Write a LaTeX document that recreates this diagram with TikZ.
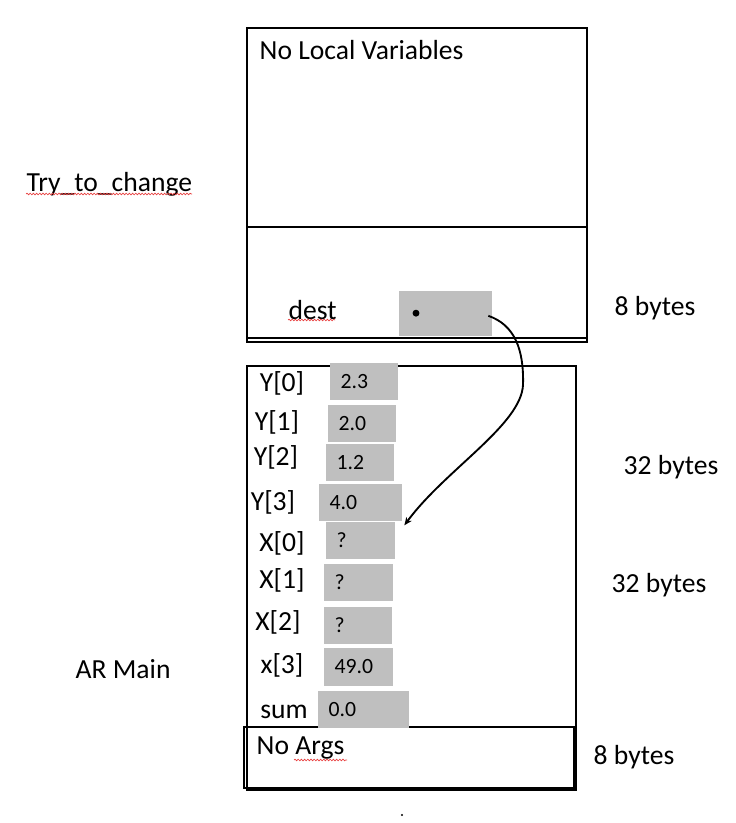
\documentclass[tikz,border=0pt]{standalone}
\usepackage{fontspec}
\setmainfont{Carlito}
\usetikzlibrary{arrows.meta,positioning,decorations.pathmorphing}
\definecolor{cellgrey}{RGB}{191,191,191}
\definecolor{spellred}{RGB}{232,64,64}

\begin{document}
\begin{tikzpicture}[x=0.75pt,y=-0.75pt,line width=1pt,
  every node/.style={inner sep=0pt,font=\fontsize{20.7}{24}\selectfont},
  txt/.style={anchor=west},
  cell/.style={fill=cellgrey,anchor=north west,inner xsep=8.25pt,inner ysep=0pt,minimum height=27.75pt,align=left,font=\fontsize{16.3}{19}\selectfont},
  squiggle/.style={spellred,line width=0.5pt,decorate,decoration={snake,amplitude=0.6pt,segment length=2.4pt}}]
  \useasboundingbox (0,0) rectangle (735,823);
  % frames
  \draw (247,28) rectangle (587,342);
  \draw (247,227) -- (587,227);
  \draw (247,338) -- (587,338);
  \draw (247,366) rectangle (576,790);
  \draw (244,727) rectangle (574,788);
  % callee frame
  \node[txt] (nolocal) at (259,50) {No Local Variables};
  \node[txt] (destlbl) at (288,310) {dest};
  \node[cell,minimum width=69.75pt,minimum height=33.75pt] (dest) at (398,290) {};
  \fill ([xshift=13.5pt]dest.west) circle[radius=2.6pt];
  % main frame
  \node[cell,text width=34.5pt] (y0) at (329,362) {2.3};
  \node[cell,text width=34.5pt] (y1) at (327,404) {2.0};
  \node[cell,text width=34.5pt] (y2) at (325,443) {1.2};
  \node[cell,text width=45.75pt] (y3) at (318,483) {4.0};
  \node[cell,text width=35.25pt] (x0) at (325,521) {?};
  \node[cell,text width=35.25pt] (x1) at (323,563) {?};
  \node[cell,text width=34.5pt] (x2) at (323,606) {?};
  \node[cell,text width=35.25pt,minimum height=28.5pt] (x3) at (323,647) {49.0};
  \node[cell,text width=51.75pt] (sum) at (317,690) {0.0};
  \node (y0lbl) at (282,383) {Y[0]};
  \node (y1lbl) at (277,422) {Y[1]};
  \node (y2lbl) at (276,457) {Y[2]};
  \node (y3lbl) at (273,502) {Y[3]};
  \node (x0lbl) at (282,543) {X[0]};
  \node (x1lbl) at (282,580) {X[1]};
  \node (x2lbl) at (278,622) {X[2]};
  \node (x3lbl) at (282,665) {x[3]};
  \node (sumlbl) at (284,712) {sum};
  \node[txt] (noargs) at (256,748) {No Args};
  % side labels
  \node[txt] (trylbl) at (26,184) {Try\_to\_change};
  \node[txt] (mainlbl) at (75,669) {AR Main};
  \node[txt] (bytes1) at (614,308) {8 bytes};
  \node[txt] (bytes2) at (623,467) {32 bytes};
  \node[txt] (bytes3) at (611,585) {32 bytes};
  \node[txt] (bytes4) at (593,757) {8 bytes};
  % spelling marks
  \draw[squiggle] (26,194) -- (192,194);
  \draw[squiggle] (288,320) -- (335,320);
  \draw[squiggle] (294,760) -- (347,760);
  \fill (402,815) circle[radius=0.8pt];
  % pointer
  \coordinate (bend) at (523,385);
  \draw[line width=1.4pt,-{Stealth[open,length=6pt,width=5pt]}] ([xshift=-3pt,yshift=-2pt]dest.east) .. controls (515,325) and (524,350) .. (bend)
    .. controls (521,425) and (445,470) .. ([xshift=1.5pt,yshift=-3pt]y3.south east);
\end{tikzpicture}
\end{document}
